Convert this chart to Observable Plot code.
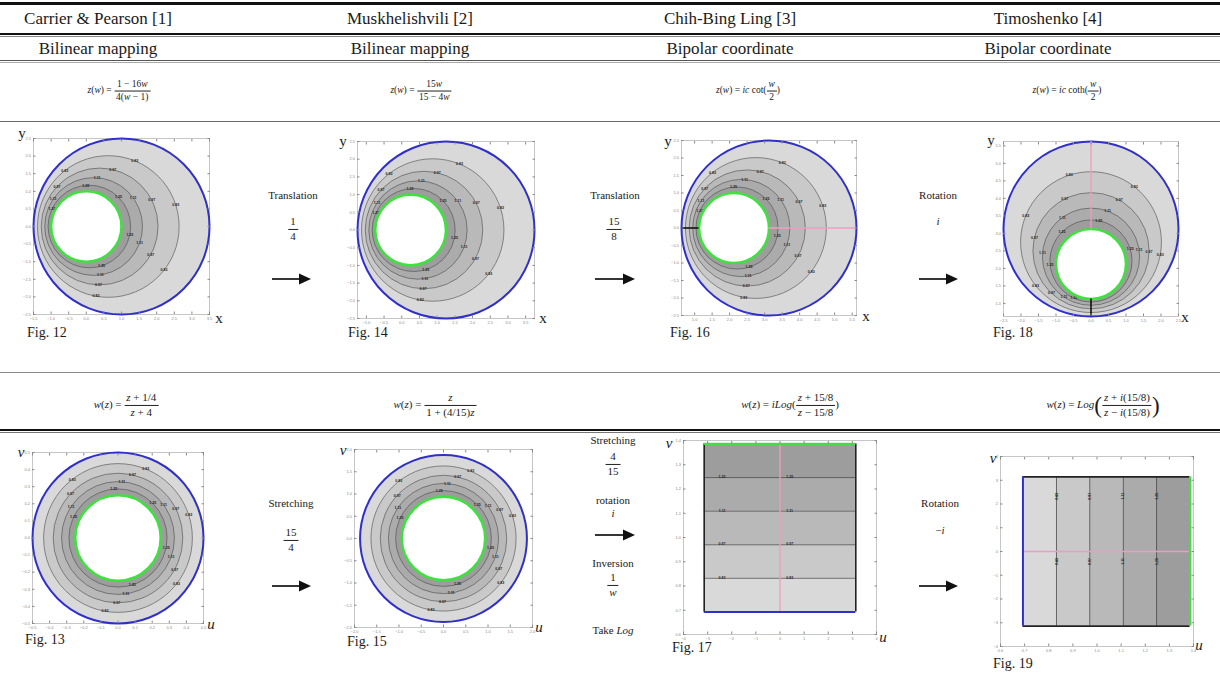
<!DOCTYPE html>
<html><head><meta charset="utf-8">
<script src="https://cdn.jsdelivr.net/npm/d3@7"></script>
<script src="https://cdn.jsdelivr.net/npm/@observablehq/plot@0.6"></script>
<style>
body{margin:0;background:#fff;}
#page{position:relative;width:1220px;height:685px;overflow:hidden;font-family:"Liberation Serif","Times New Roman",serif;color:#1a1a1a;background:#fff;}
.abs{position:absolute;white-space:nowrap;line-height:1;}
.rule{position:absolute;left:0;width:1220px;}
.frac{display:inline-flex;flex-direction:column;vertical-align:middle;text-align:center;line-height:1.05;}
.frac>span:first-child{border-bottom:0.8px solid #222;padding:0 2px 1px 2px;}
.frac>span:last-child{padding:1px 2px 0 2px;}
.big{font-size:2.1em;vertical-align:middle;font-weight:100;line-height:0.8;}
i{font-style:italic;}
</style></head>
<body><div id="page"></div>
<script>
// ---------------- data ----------------
const headers = ["Carrier & Pearson [1]", "Muskhelishvili [2]", "Chih-Bing Ling [3]", "Timoshenko [4]"];
const methods = ["Bilinear mapping", "Bilinear mapping", "Bipolar coordinate", "Bipolar coordinate"];
// eccentric annulus of Fig. 12 (z-plane): circle centres on real axis and radii, outer → inner
const circleCx = [1.0, 0.6252, 0.3790, 0.2083, 0.0866, 0.0];
const circleR  = [2.5, 2.0120, 1.6596, 1.3887, 1.1729, 1.0];
// concentric annulus radii: Fig. 13 and Fig. 15 (w-plane), outer → inner
const ringR13 = [0.5, 0.435, 0.379, 0.330, 0.287, 0.25];
const ringR15 = [1.875, 1.631, 1.421, 1.238, 1.076, 0.9375];
// strip levels Fig. 17 / Fig. 19 (ln 2 … ln 4)
const stripV = [0.693, 0.832, 0.970, 1.109, 1.247, 1.386];
const contourLabels = ["", "0.83", "0.97", "1.11", "1.25", ""];
const translation14 = 0.25, translation16 = 2.125;
// frame tick values
const ticks12x = [-1.5,-1,-0.5,0,0.5,1,1.5,2,2.5,3,3.5];
const ticks12y = [-2.5,-2,-1.5,-1,-0.5,0,0.5,1,1.5,2,2.5];
const ticks14x = [-1,-0.5,0,0.5,1,1.5,2,2.5,3,3.5];
const ticks16x = [1,1.5,2,2.5,3,3.5,4,4.5,5,5.5];
const ticks18y = [1,1.5,2,2.5,3,3.5,4,4.5,5,5.5];
const ticks13 = [-0.5,-0.4,-0.3,-0.2,-0.1,0,0.1,0.2,0.3,0.4,0.5];
const ticks15 = [-2,-1.5,-1,-0.5,0,0.5,1,1.5,2];
const ticksPi = [-4,-3,-2,-1,0,1,2,3,4];
const ticksV = [0.6,0.7,0.8,0.9,1,1.1,1.2,1.3,1.4];

// ---------------- styles ----------------
const bandFill = ["#d9d9d9", "#c9c9c9", "#b9b9b9", "#ababab", "#9d9d9d", "#ffffff"];
const BLUE = "#3030c8", GREEN = "#40e040", PINK = "#f09cc0";
const labelAngles = [128, 68, 18, -38, -100];

const page = document.getElementById("page");

function put(html, x, y, style = "", align = "center") {
  const d = document.createElement("div");
  d.className = "abs";
  d.innerHTML = html;
  const tx = align === "center" ? "-50%" : align === "left" ? "0" : "-100%";
  d.setAttribute("style", `left:${x}px;top:${y}px;transform:translate(${tx},-50%);${style}`);
  page.appendChild(d);
}
function rule(y, h, color) {
  const d = document.createElement("div");
  d.className = "rule";
  d.setAttribute("style", `top:${y}px;height:${h}px;background:${color};`);
  page.appendChild(d);
}
function arrow(x1, x2, y) {
  const w = x2 - x1;
  const s = d3.create("svg").attr("width", w + 2).attr("height", 14)
    .style("position", "absolute").style("left", x1 + "px").style("top", (y - 7) + "px");
  s.append("line").attr("x1", 0).attr("x2", w - 9).attr("y1", 7).attr("y2", 7).attr("stroke", "#111").attr("stroke-width", 1.7);
  s.append("path").attr("d", `M${w - 12},1.5 L${w},7 L${w - 12},12.5 Z`).attr("fill", "#111");
  page.appendChild(s.node());
}

// ---------------- table rules & text ----------------
rule(2, 2.5, "#111");
rule(33, 2.2, "#111"); rule(36.2, 1, "#888");
rule(59.5, 1.2, "#555"); rule(61.8, 0.8, "#aaa");
rule(120.5, 1.8, "#6a6a6a");
rule(371.5, 1.6, "#8a8a8a");
rule(428.5, 2.6, "#111"); rule(432.2, 1, "#777");

const colX = [98, 410, 730, 1048];
headers.forEach((t, i) => put(t, colX[i], 18, "font-size:17px;"));
methods.forEach((t, i) => put(t, colX[i], 48, "font-size:17px;"));

const fr = (a, b) => `<span class="frac"><span>${a}</span><span>${b}</span></span>`;
const formulas1 = [
  `<i>z</i>(<i>w</i>) = ${fr("1 − 16<i>w</i>", "4(<i>w</i> − 1)")}`,
  `<i>z</i>(<i>w</i>) = ${fr("15<i>w</i>", "15 − 4<i>w</i>")}`,
  `<i>z</i>(<i>w</i>) = <i>ic</i> cot(${fr("<i>w</i>", "2")})`,
  `<i>z</i>(<i>w</i>) = <i>ic</i> coth(${fr("<i>w</i>", "2")})`
];
const colX1 = [119, 421, 748, 1067];
formulas1.forEach((t, i) => put(t, colX1[i], 91, "font-size:9.5px;"));
const formulas2 = [
  `<i>w</i>(<i>z</i>) = ${fr("<i>z</i> + 1/4", "<i>z</i> + 4")}`,
  `<i>w</i>(<i>z</i>) = ${fr("<i>z</i>", "1 + (4/15)<i>z</i>")}`,
  `<i>w</i>(<i>z</i>) = <i>i</i><i>Log</i>(${fr("<i>z</i> + 15/8", "<i>z</i> − 15/8")})`,
  `<i>w</i>(<i>z</i>) = <i>Log</i><span class="big">(</span>${fr("<i>z</i> + <i>i</i>(15/8)", "<i>z</i> − <i>i</i>(15/8)")}<span class="big">)</span>`
];
const colX2 = [126, 435, 790, 1103];
formulas2.forEach((t, i) => put(t, colX2[i], 405, "font-size:11px;"));

// arrows and operation labels
const opStyle = "font-size:11px;";
put("Translation", 293, 195, opStyle); put(fr("1", "4"), 293, 229, opStyle); arrow(272, 311, 279);
put("Translation", 615, 195, opStyle); put(fr("15", "8"), 614, 229, opStyle); arrow(595, 635, 279);
put("Rotation", 938, 195, opStyle); put("<i>i</i>", 938, 221, opStyle); arrow(919, 958, 279);
put("Stretching", 291, 503, opStyle); put(fr("15", "4"), 291, 540, opStyle); arrow(272, 311, 586);
put("Stretching", 613, 440, opStyle); put(fr("4", "15"), 613, 464, opStyle);
put("rotation", 613, 500, opStyle); put("<i>i</i>", 613, 513, opStyle); arrow(595, 635, 535);
put("Inversion", 613, 563, opStyle); put(fr("1", "<i>w</i>"), 613, 585, opStyle);
put("Take <i>Log</i>", 613, 630, opStyle);
put("Rotation", 940, 503, opStyle); put("−<i>i</i>", 940, 530, opStyle); arrow(919, 958, 586);

// ---------------- panels ----------------
function panel({left, top, w, h, xd, yd, xt, yt, marks}) {
  const mL = 16, mR = 4, mT = 4, mB = 10;
  const k = w / (xd[1] - xd[0]);
  const svg = Plot.plot({
    width: w + mL + mR, height: h + mT + mB,
    marginLeft: mL, marginRight: mR, marginTop: mT, marginBottom: mB,
    x: {domain: xd}, y: {domain: yd},
    r: {type: "linear", domain: [0, 1], range: [0, k]},
    color: {type: "identity"},
    style: {background: "transparent", overflow: "visible", fontFamily: "Liberation Sans, sans-serif"},
    marks: [
      Plot.frame({stroke: "#b8b8b8", strokeWidth: 0.8}),
      ...marks,
      Plot.axisX({ticks: xt, tickSize: -2.5, tickPadding: 5, fontSize: 4, color: "#8a8a8a", label: null}),
      Plot.axisX({anchor: "top", ticks: xt, tickSize: -2.5, tickFormat: () => "", color: "#8a8a8a", label: null}),
      Plot.axisY({ticks: yt, tickSize: -2.5, tickPadding: 5, fontSize: 4, color: "#8a8a8a", label: null}),
      Plot.axisY({anchor: "right", ticks: yt, tickSize: -2.5, tickFormat: () => "", color: "#8a8a8a", label: null})
    ]
  });
  svg.style.position = "absolute";
  svg.style.left = (left - mL) + "px";
  svg.style.top = (top - mT) + "px";
  page.appendChild(svg);
}

function circleMarks(rows, rot = 0) {
  const contours = rows.slice(1, 5);
  const labels = [];
  contours.forEach((c, j) => labelAngles.forEach((a, n) => {
    const t = (a + rot + j * 9) * Math.PI / 180;
    labels.push({x: c.x + c.r * Math.cos(t), y: c.y + c.r * Math.sin(t), text: c.label});
  }));
  return [
    Plot.dot(rows, {x: "x", y: "y", r: "r", fill: "fill", stroke: null}),
    Plot.dot(contours, {x: "x", y: "y", r: "r", fill: "none", stroke: "#4a4a4a", strokeWidth: 0.6}),
    Plot.text(labels, {x: "x", y: "y", text: "text", fontSize: 3.6, fill: "#222", fontWeight: "bold"}),
    Plot.dot([rows[0]], {x: "x", y: "y", r: "r", fill: "none", stroke: BLUE, strokeWidth: 2}),
    Plot.dot([rows[5]], {x: "x", y: "y", r: "r", fill: "none", stroke: GREEN, strokeWidth: 2.6})
  ];
}
const ecc = (shift) => circleCx.map((cx, i) => ({x: cx + shift, y: 0, r: circleR[i], fill: bandFill[i], label: contourLabels[i]}));
const eccRot = (shift) => circleCx.map((cx, i) => ({x: 0, y: cx + shift, r: circleR[i], fill: bandFill[i], label: contourLabels[i]}));
const conc = (radii) => radii.map((r, i) => ({x: 0, y: 0, r, fill: bandFill[i], label: contourLabels[i]}));

// Fig. 12
panel({left: 33, top: 138, w: 176, h: 176, xd: [-1.5, 3.5], yd: [-2.5, 2.5], xt: ticks12x, yt: ticks12y,
  marks: circleMarks(ecc(0))});
// Fig. 14
const r14 = ecc(translation14);
panel({left: 357, top: 141, w: 177, h: 177, xd: [-1.25, 3.75], yd: [-2.5, 2.5], xt: ticks14x, yt: ticks12y,
  marks: circleMarks(r14)});
// Fig. 16
const r16 = ecc(translation16);
const inner16 = r16[5], outer16 = r16[0];
panel({left: 681, top: 140, w: 175, h: 175, xd: [0.625, 5.625], yd: [-2.5, 2.5], xt: ticks16x, yt: ticks12y,
  marks: [...circleMarks(r16),
    Plot.ruleY([0], {x1: inner16.x + inner16.r, x2: outer16.x + outer16.r, stroke: PINK, strokeWidth: 1.3}),
    Plot.ruleY([0], {x1: outer16.x - outer16.r, x2: inner16.x - inner16.r, stroke: "#111", strokeWidth: 1.6})]});
// Fig. 18
const r18 = eccRot(translation16);
const inner18 = r18[5], outer18 = r18[0];
panel({left: 1003, top: 141, w: 175, h: 175, xd: [-2.5, 2.5], yd: [0.625, 5.625], xt: ticks12y, yt: ticks18y,
  marks: [...circleMarks(r18, 90),
    Plot.ruleX([0], {y1: inner18.y + inner18.r, y2: outer18.y + outer18.r, stroke: PINK, strokeWidth: 1.3}),
    Plot.ruleX([0], {y1: outer18.y - outer18.r, y2: inner18.y - inner18.r, stroke: "#111", strokeWidth: 1.6})]});
// Fig. 13
panel({left: 32, top: 452, w: 171, h: 171, xd: [-0.5, 0.5], yd: [-0.5, 0.5], xt: ticks13, yt: ticks13,
  marks: circleMarks(conc(ringR13))});
// Fig. 15
panel({left: 354, top: 449, w: 178, h: 178, xd: [-2, 2], yd: [-2, 2], xt: ticks15, yt: ticks15,
  marks: circleMarks(conc(ringR15))});

// strips
const stripBands = stripV.slice(0, 5).map((v, i) => ({v1: v, v2: stripV[i + 1], fill: bandFill[i]}));
const stripLines = stripV.slice(1, 5).map((v, i) => ({v, label: contourLabels[i + 1]}));
const PI = Math.PI;
// Fig. 17
panel({left: 683, top: 440, w: 193, h: 194, xd: [-4, 4], yd: [0.6, 1.4], xt: ticksPi, yt: ticksV,
  marks: [
    Plot.rect(stripBands, {x1: -PI, x2: PI, y1: "v1", y2: "v2", fill: "fill"}),
    Plot.ruleY(stripLines, {y: "v", x1: -PI, x2: PI, stroke: "#3a3a3a", strokeWidth: 0.7}),
    Plot.text(stripLines, {y: "v", x: -2.4, text: "label", fontSize: 3.6, fill: "#222", fontWeight: "bold", dy: -0.5}),
    Plot.text(stripLines, {y: "v", x: 0.4, text: "label", fontSize: 3.6, fill: "#222", fontWeight: "bold", dy: -0.5}),
    Plot.ruleX([0], {y1: stripV[0], y2: stripV[5], stroke: PINK, strokeWidth: 1.3}),
    Plot.ruleX([-PI, PI], {y1: stripV[0], y2: stripV[5], stroke: "#222", strokeWidth: 1.6}),
    Plot.ruleY([stripV[5]], {x1: -PI, x2: PI, stroke: GREEN, strokeWidth: 2.4}),
    Plot.ruleY([stripV[0]], {x1: -PI, x2: PI, stroke: BLUE, strokeWidth: 2})
  ]});
// Fig. 19
panel({left: 1000, top: 456, w: 193, h: 190, xd: [0.6, 1.4], yd: [-4, 4], xt: ticksV, yt: ticksPi,
  marks: [
    Plot.rect(stripBands, {x1: "v1", x2: "v2", y1: -PI, y2: PI, fill: "fill"}),
    Plot.ruleX(stripLines, {x: "v", y1: -PI, y2: PI, stroke: "#3a3a3a", strokeWidth: 0.7}),
    Plot.text(stripLines, {x: "v", y: 2.33, text: "label", fontSize: 3.6, fill: "#222", fontWeight: "bold", rotate: -90}),
    Plot.text(stripLines, {x: "v", y: -0.42, text: "label", fontSize: 3.6, fill: "#222", fontWeight: "bold", rotate: -90}),
    Plot.ruleY([0], {x1: stripV[0], x2: stripV[5], stroke: PINK, strokeWidth: 1.3}),
    Plot.ruleY([-PI, PI], {x1: stripV[0], x2: stripV[5], stroke: "#222", strokeWidth: 1.6}),
    Plot.ruleX([stripV[0]], {y1: -PI, y2: PI, stroke: BLUE, strokeWidth: 2}),
    Plot.ruleX([stripV[5]], {y1: -PI, y2: PI, stroke: GREEN, strokeWidth: 2.4})
  ]});

// axis letters and figure captions
const letter = "font-size:15px;";
put("y", 22, 133, letter); put("x", 219, 318, letter);
put("y", 343, 141, letter); put("x", 543, 318, letter);
put("y", 668, 141, letter); put("x", 866, 316, letter);
put("y", 991, 140, letter); put("x", 1185, 317, letter);
put("<i>v</i>", 21, 452, letter); put("<i>u</i>", 211, 624, letter);
put("<i>v</i>", 343, 450, letter); put("<i>u</i>", 539, 627, letter);
put("<i>v</i>", 669, 443, letter); put("<i>u</i>", 883, 637, letter);
put("<i>v</i>", 993, 458, letter); put("<i>u</i>", 1199, 645, letter);
const cap = "font-size:14px;";
put("Fig. 12", 27, 333, cap, "left");
put("Fig. 14", 348, 333, cap, "left");
put("Fig. 16", 670, 333, cap, "left");
put("Fig. 18", 993, 333, cap, "left");
put("Fig. 13", 25, 640, cap, "left");
put("Fig. 15", 347, 642, cap, "left");
put("Fig. 17", 672, 648, cap, "left");
put("Fig. 19", 993, 664, cap, "left");
</script>
</body></html>
